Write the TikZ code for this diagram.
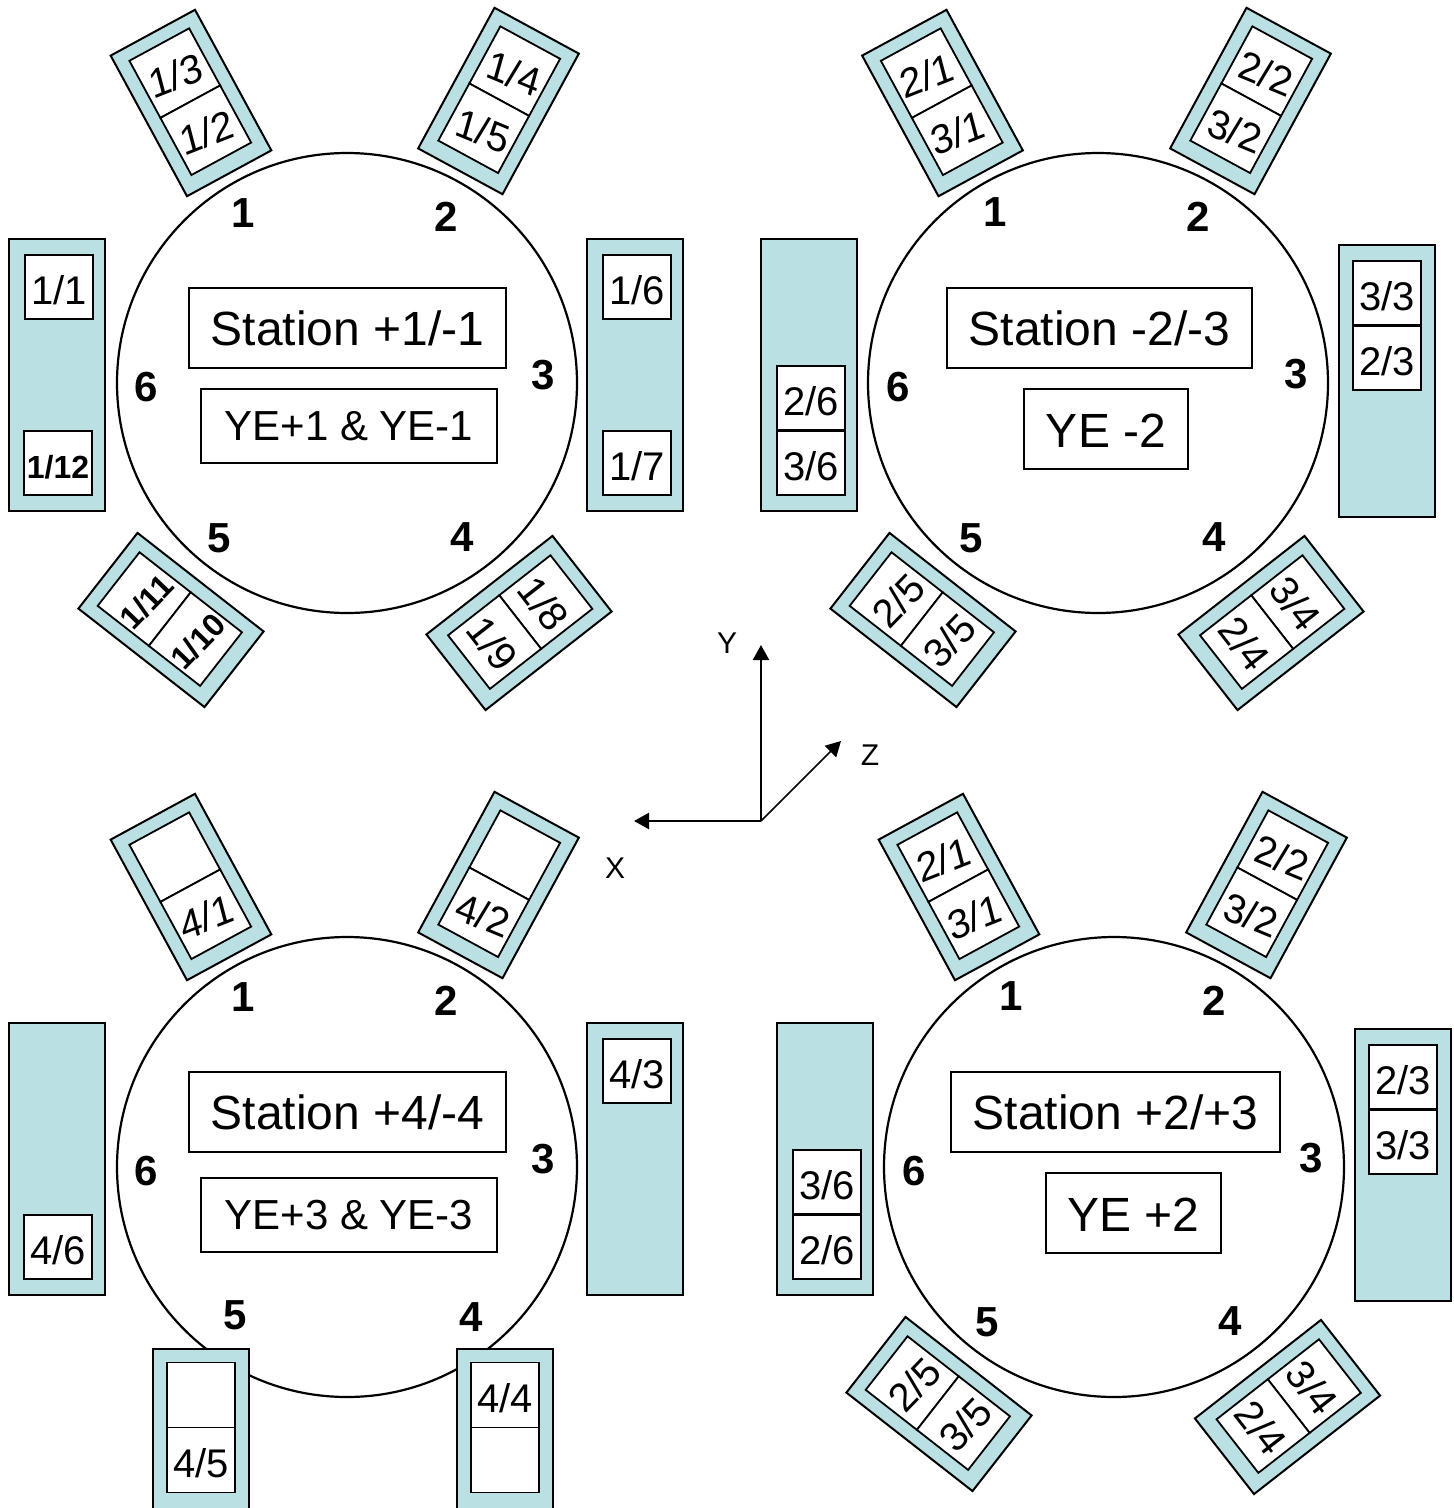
\documentclass[tikz,border=0pt]{standalone}
\usepackage{fontspec}
\setmainfont{Liberation Sans}
\usetikzlibrary{arrows.meta}
\definecolor{carrier}{HTML}{BBE0E3}
\tikzset{
  ring/.style={draw,circle,line width=2.2pt,minimum size=460pt,inner sep=0pt},
  carrierbox/.style={draw,fill=carrier,line width=2pt,inner sep=0pt},
  cellbox/.style={draw,fill=white,line width=1.8pt,inner sep=0pt,minimum width=68pt},
  celltext/.style={inner sep=0pt,text height=34pt,text depth=0pt,font=\fontsize{40}{40}\selectfont},
  boldtext/.style={inner sep=0pt,text height=30pt,text depth=0pt,font=\fontsize{32}{32}\selectfont\bfseries},
  titlebox/.style={draw,fill=white,line width=1.8pt,inner sep=0pt,font=\fontsize{48}{48}\selectfont},
  yebox/.style={draw,fill=white,line width=1.8pt,inner sep=0pt,font=\fontsize{42}{42}\selectfont},
  yelarge/.style={draw,fill=white,line width=1.8pt,inner sep=0pt,text height=37.5pt,text depth=0pt,font=\fontsize{48}{48}\selectfont},
  portnum/.style={inner sep=0pt,font=\fontsize{42}{42}\selectfont\bfseries},
  axislabel/.style={inner sep=0pt,font=\fontsize{30}{30}\selectfont},
  axisline/.style={line width=2.2pt,-{Triangle[length=15pt,width=16pt]}},
  tiltleft/.style={rotate=-7,xslant=0.12},
  tiltright/.style={rotate=6,xslant=-0.12},
  steepleft/.style={rotate=-6},
  steepright/.style={}
}
% [text style], name, cx, cy, rotation, top text, bottom text
\newcommand{\modulebox}[7][celltext]{%
  \begin{scope}[shift={(#3,#4)},rotate=#5,transform shape]
    \node[carrierbox,minimum width=96pt,minimum height=160pt] (#2) at (0,0) {};
    \node[cellbox,minimum height=65pt] (#2a) at (0,-34) {};
    \node[cellbox,minimum height=65pt] (#2b) at (0,31) {};
    \node[#1] (#2at) at (#2a.center) {#6};
    \node[#1] (#2bt) at (#2b.center) {#7};
  \end{scope}}
% name, xc, yc, height
\newcommand{\tallbox}[4]{\node[carrierbox,minimum width=96pt,minimum height=#4pt] (#1) at (#2,#3) {};}
% [text style], name, xc, yc, text
\newcommand{\singlecell}[5][celltext]{%
  \node[cellbox,minimum height=64pt] (#2) at (#3,#4) {};
  \node[#1] (#2t) at (#2.center) {#5};}
\begin{document}
\begin{tikzpicture}[x=1pt,y=-1pt]
\useasboundingbox (0,0) rectangle (1454,1508);

% ---- circles
\node[ring] (c1) at (347,383) {};
\node[ring] (c2) at (1098,383) {};
\node[ring] (c3) at (347,1167) {};
\node[ring] (c4) at (1114,1167) {};

% ---- top left group
\modulebox[celltext,tiltleft]{a1}{191}{103}{28.5}{1/3}{1/2}
\modulebox[celltext,tiltright]{a2}{498.5}{101}{-28.5}{1/4}{1/5}
\modulebox[boldtext,steepleft]{a5}{171}{620}{52}{1/11}{1/10}
\modulebox[celltext,steepright]{a4}{519}{623}{-52}{1/8}{1/9}
\tallbox{a6}{57}{375}{272}
\tallbox{a3}{635}{375}{272}
\singlecell{a6a}{59}{287}{1/1}
\singlecell[boldtext]{a6b}{58}{463}{1/12}
\singlecell{a3a}{637}{287}{1/6}
\singlecell{a3b}{637}{463}{1/7}
\node[titlebox,minimum width=317pt,minimum height=80pt] (ta) at (347.5,328) {Station +1/-1};
\node[yebox,minimum width=296pt,minimum height=74pt] (ya) at (349,426) {YE+1 \& YE-1};
\node[portnum] (na1) at (243.5,213) {1};
\node[portnum] (na2) at (446,217) {2};
\node[portnum] (na3) at (543.5,375) {3};
\node[portnum] (na4) at (462.5,537) {4};
\node[portnum] (na5) at (219.5,538) {5};
\node[portnum] (na6) at (146,387) {6};

% ---- top right group
\modulebox[celltext,tiltleft]{b1}{942.5}{103}{28.5}{2/1}{3/1}
\modulebox[celltext,tiltright]{b2}{1250.5}{101}{-28.5}{2/2}{3/2}
\modulebox[celltext,steepleft]{b5}{923}{620}{52}{2/5}{3/5}
\modulebox[celltext,steepright]{b4}{1271}{623}{-52}{3/4}{2/4}
\tallbox{b6}{809}{375}{272}
\tallbox{b3}{1387}{381}{272}
\singlecell{b6a}{811}{398}{2/6}
\singlecell{b6b}{811}{463}{3/6}
\singlecell{b3a}{1387}{293}{3/3}
\singlecell{b3b}{1387}{358}{2/3}
\node[titlebox,minimum width=305pt,minimum height=80pt] (tb) at (1099.5,328) {Station -2/-3};
\node[yelarge,minimum width=164pt,minimum height=80pt] (yb) at (1106,429) {YE -2};
\node[portnum] (nb1) at (995.5,212) {1};
\node[portnum] (nb2) at (1198,217) {2};
\node[portnum] (nb3) at (1296.5,374) {3};
\node[portnum] (nb4) at (1214.5,537) {4};
\node[portnum] (nb5) at (971.5,538) {5};
\node[portnum] (nb6) at (898,387) {6};

% ---- bottom left group
\modulebox[celltext,tiltleft]{d1}{191}{887}{28.5}{}{4/1}
\modulebox[celltext,tiltright]{d2}{498.5}{885}{-28.5}{}{4/2}
\modulebox{d5}{201}{1429}{0}{}{4/5}
\modulebox{d4}{505}{1429}{0}{4/4}{}
\tallbox{d6}{57}{1159}{272}
\tallbox{d3}{635}{1159}{272}
\singlecell{d6b}{58}{1247}{4/6}
\singlecell{d3a}{637}{1071}{4/3}
\node[titlebox,minimum width=317pt,minimum height=80pt] (td) at (347.5,1112) {Station +4/-4};
\node[yebox,minimum width=296pt,minimum height=74pt] (yd) at (349,1215) {YE+3 \& YE-3};
\node[portnum] (nd1) at (243.5,997) {1};
\node[portnum] (nd2) at (446,1001) {2};
\node[portnum] (nd3) at (543.5,1159) {3};
\node[portnum] (nd4) at (471,1317) {4};
\node[portnum] (nd5) at (235.5,1315) {5};
\node[portnum] (nd6) at (146,1171) {6};

% ---- bottom right group
\modulebox[celltext,tiltleft]{e1}{959}{887}{28.5}{2/1}{3/1}
\modulebox[celltext,tiltright]{e2}{1266.5}{885}{-28.5}{2/2}{3/2}
\modulebox[celltext,steepleft]{e5}{939}{1404}{52}{2/5}{3/5}
\modulebox[celltext,steepright]{e4}{1287.5}{1407}{-52}{3/4}{2/4}
\tallbox{e6}{825}{1159}{272}
\tallbox{e3}{1403}{1165}{272}
\singlecell{e6a}{827}{1182}{3/6}
\singlecell{e6b}{827}{1247}{2/6}
\singlecell{e3a}{1403}{1077}{2/3}
\singlecell{e3b}{1403}{1142}{3/3}
\node[titlebox,minimum width=329pt,minimum height=80pt] (te) at (1115.5,1112) {Station +2/+3};
\node[yelarge,minimum width=175pt,minimum height=80pt] (ye) at (1133.5,1213) {YE +2};
\node[portnum] (ne1) at (1011.5,996) {1};
\node[portnum] (ne2) at (1214,1001) {2};
\node[portnum] (ne3) at (1311.5,1158) {3};
\node[portnum] (ne4) at (1230.5,1321) {4};
\node[portnum] (ne5) at (987.5,1322) {5};
\node[portnum] (ne6) at (914,1171) {6};

% ---- axes
\coordinate (origin) at (761,821);
\coordinate (ytip) at (761,645);
\coordinate (xtip) at (634,821);
\coordinate (ztip) at (841,741);
\draw[axisline] (origin) -- (ytip);
\draw[axisline] (origin) -- (xtip);
\draw[axisline,line width=1.6pt] (origin) -- (ztip);
\node[axislabel] (ly) at (727,643) {Y};
\node[axislabel] (lx) at (615,868) {X};
\node[axislabel] (lz) at (870,755) {Z};
\end{tikzpicture}
\end{document}
